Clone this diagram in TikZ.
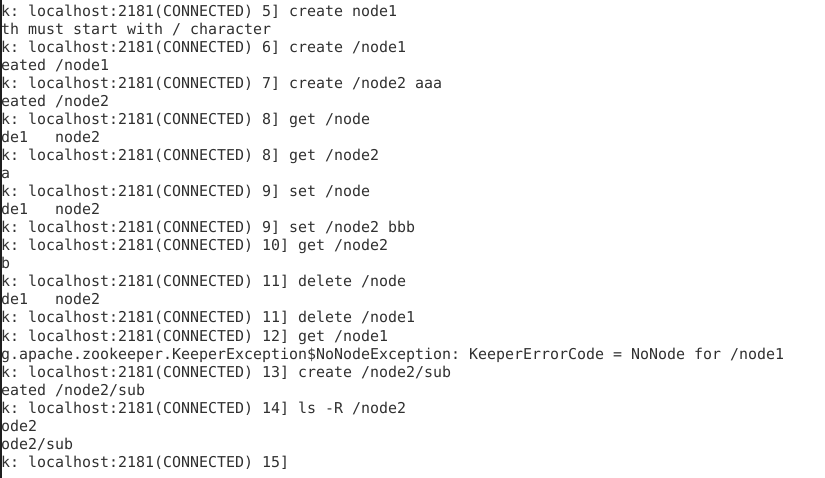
\documentclass[tikz,border=0pt]{standalone}
\usepackage{fontspec}
\newfontfamily\term{DejaVu Sans Mono}
\definecolor{termtext}{HTML}{303030}
\definecolor{termedge}{HTML}{1E1E1E}
\tikzset{
  ln/.style={anchor=base west, inner sep=0pt, outer sep=0pt, text=termtext,
    font=\term\fontsize{14.95bp}{18bp}\selectfont},
}
\begin{document}
\begin{tikzpicture}[x=1bp,y=-1bp]
\useasboundingbox[fill=white] (0,0) rectangle (825,478);
\fill[termedge] (0,0) rectangle (1.8,478);
\node[ln] (l1)  at (1,17)  {k:\ localhost:2181(CONNECTED)\ 5]\ create\ node1};
\node[ln] (l2)  at (1,35)  {th\ must\ start\ with\ /\ character};
\node[ln] (l3)  at (1,53)  {k:\ localhost:2181(CONNECTED)\ 6]\ create\ /node1};
\node[ln] (l4)  at (1,71)  {eated\ /node1};
\node[ln] (l5)  at (1,89)  {k:\ localhost:2181(CONNECTED)\ 7]\ create\ /node2\ aaa};
\node[ln] (l6)  at (1,107) {eated\ /node2};
\node[ln] (l7)  at (1,125) {k:\ localhost:2181(CONNECTED)\ 8]\ get\ /node};
\node[ln] (l8)  at (1,143) {de1\ \ \ node2};
\node[ln] (l9)  at (1,161) {k:\ localhost:2181(CONNECTED)\ 8]\ get\ /node2};
\node[ln] (l10) at (1,179) {a};
\node[ln] (l11) at (1,197) {k:\ localhost:2181(CONNECTED)\ 9]\ set\ /node};
\node[ln] (l12) at (1,215) {de1\ \ \ node2};
\node[ln] (l13) at (1,233) {k:\ localhost:2181(CONNECTED)\ 9]\ set\ /node2\ bbb};
\node[ln] (l14) at (1,251) {k:\ localhost:2181(CONNECTED)\ 10]\ get\ /node2};
\node[ln] (l15) at (1,269) {b};
\node[ln] (l16) at (1,287) {k:\ localhost:2181(CONNECTED)\ 11]\ delete\ /node};
\node[ln] (l17) at (1,305) {de1\ \ \ node2};
\node[ln] (l18) at (1,323) {k:\ localhost:2181(CONNECTED)\ 11]\ delete\ /node1};
\node[ln] (l19) at (1,341) {k:\ localhost:2181(CONNECTED)\ 12]\ get\ /node1};
\node[ln] (l20) at (1,359) {g.apache.zookeeper.KeeperException\$NoNodeException:\ KeeperErrorCode\ =\ NoNode\ for\ /node1};
\node[ln] (l21) at (1,377) {k:\ localhost:2181(CONNECTED)\ 13]\ create\ /node2/sub};
\node[ln] (l22) at (1,395) {eated\ /node2/sub};
\node[ln] (l23) at (1,413) {k:\ localhost:2181(CONNECTED)\ 14]\ ls\ -R\ /node2};
\node[ln] (l24) at (1,431) {ode2};
\node[ln] (l25) at (1,449) {ode2/sub};
\node[ln] (l26) at (1,467) {k:\ localhost:2181(CONNECTED)\ 15]};
\end{tikzpicture}
\end{document}
